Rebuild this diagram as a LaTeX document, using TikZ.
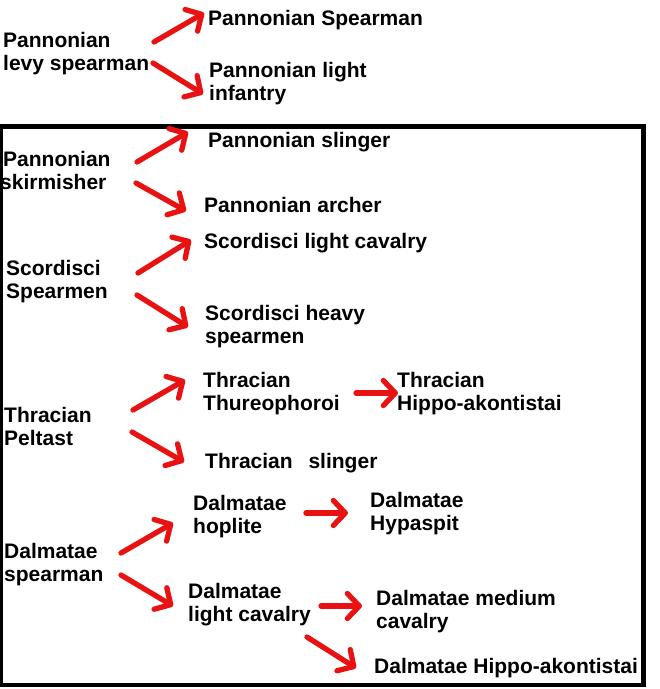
\documentclass[tikz,border=0pt]{standalone}
\usepackage{fontspec}
\setmainfont{Liberation Sans}
\usetikzlibrary{arrows.meta}
\definecolor{arrred}{RGB}{232,18,18}
\begin{document}
\begin{tikzpicture}[x=1pt,y=-1pt,
  lbl/.style={anchor=base west,inner sep=0pt,align=left,
    font=\fontsize{21}{23.5}\selectfont\bfseries},
  arr/.style={draw=arrred,line width=5.3pt,line cap=round,line join=round,
    -{Straight Barb[length=12pt,width=25pt,line cap=round,line join=round]}},
  frame/.style={draw=black,line width=4.5pt}]
\useasboundingbox (0,0) rectangle (660,689);
\fill[white] (0,0) rectangle (660,689);
% labels (two-line labels are placed by the baseline of their last line)
\node[lbl] (lvy) at (3,70.5) {Pannonian\\levy spearman};
\node[lbl] (psp) at (208,25) {Pannonian Spearman};
\node[lbl] (pli) at (209,100.5) {Pannonian light\\infantry};
\node[lbl] (psk) at (3,189.5) {Pannonian\\\hspace*{-3pt}skirmisher};
\node[lbl] (psl) at (208,147) {Pannonian slinger};
\node[lbl] (par) at (204,212) {Pannonian archer};
\node[lbl] (scs) at (6,298.5) {Scordisci\\Spearmen};
\node[lbl] (slc) at (204,248) {Scordisci light cavalry};
\node[lbl] (shs) at (205,343.5) {Scordisci heavy\\spearmen};
\node[lbl] (ttp) at (203,410.5) {Thracian\\Thureophoroi};
\node[lbl] (tha) at (397,410.5) {Thracian\\Hippo-akontistai};
\node[lbl] (tpe) at (4,445.5) {Thracian\\Peltast};
\node[lbl] (tsl) at (205,468) {Thracian\hspace{10pt} slinger};
\node[lbl] (dho) at (193,533.5) {Dalmatae\\hoplite};
\node[lbl] (dhy) at (370,530.5) {Dalmatae\\Hypaspit};
\node[lbl] (dsp) at (4,581.5) {Dalmatae\\spearman};
\node[lbl] (dlc) at (188,621.5) {Dalmatae\\light cavalry};
\node[lbl] (dmc) at (376,628.5) {Dalmatae medium\\cavalry};
\node[lbl] (dha) at (374,673) {Dalmatae Hippo-akontistai};
% frame
\draw[frame] (0.5,126.5) rectangle (643.5,685);
% arrow end points
\coordinate (a1s) at (154,42);  \coordinate (a1e) at (204,13);
\coordinate (a2s) at (153,63);  \coordinate (a2e) at (203,94);
\coordinate (a3s) at (137,162); \coordinate (a3e) at (188,132);
\coordinate (a4s) at (136,183); \coordinate (a4e) at (186,211);
\coordinate (a5s) at (138,273); \coordinate (a5e) at (191,240);
\coordinate (a6s) at (137,295); \coordinate (a6e) at (188,327);
\coordinate (a7s) at (133,410); \coordinate (a7e) at (185,380);
\coordinate (a8s) at (132,432); \coordinate (a8e) at (184,462);
\coordinate (a9s) at (356,393); \coordinate (a9e) at (398,393);
\coordinate (b1s) at (121,553); \coordinate (b1e) at (173,523);
\coordinate (b2s) at (121,575); \coordinate (b2e) at (173,606);
\coordinate (b3s) at (306,513); \coordinate (b3e) at (348,513);
\coordinate (b4s) at (321,606); \coordinate (b4e) at (362,606);
\coordinate (b5s) at (307,637); \coordinate (b5e) at (356,668);
% arrows
\draw[arr] (a1s) -- (a1e);
\draw[arr] (a2s) -- (a2e);
\draw[arr] (a3s) -- (a3e);
\draw[arr] (a4s) -- (a4e);
\draw[arr] (a5s) -- (a5e);
\draw[arr] (a6s) -- (a6e);
\draw[arr] (a7s) -- (a7e);
\draw[arr] (a8s) -- (a8e);
\draw[arr] (a9s) -- (a9e);
\draw[arr] (b1s) -- (b1e);
\draw[arr] (b2s) -- (b2e);
\draw[arr] (b3s) -- (b3e);
\draw[arr] (b4s) -- (b4e);
\draw[arr] (b5s) -- (b5e);
\end{tikzpicture}
\end{document}
